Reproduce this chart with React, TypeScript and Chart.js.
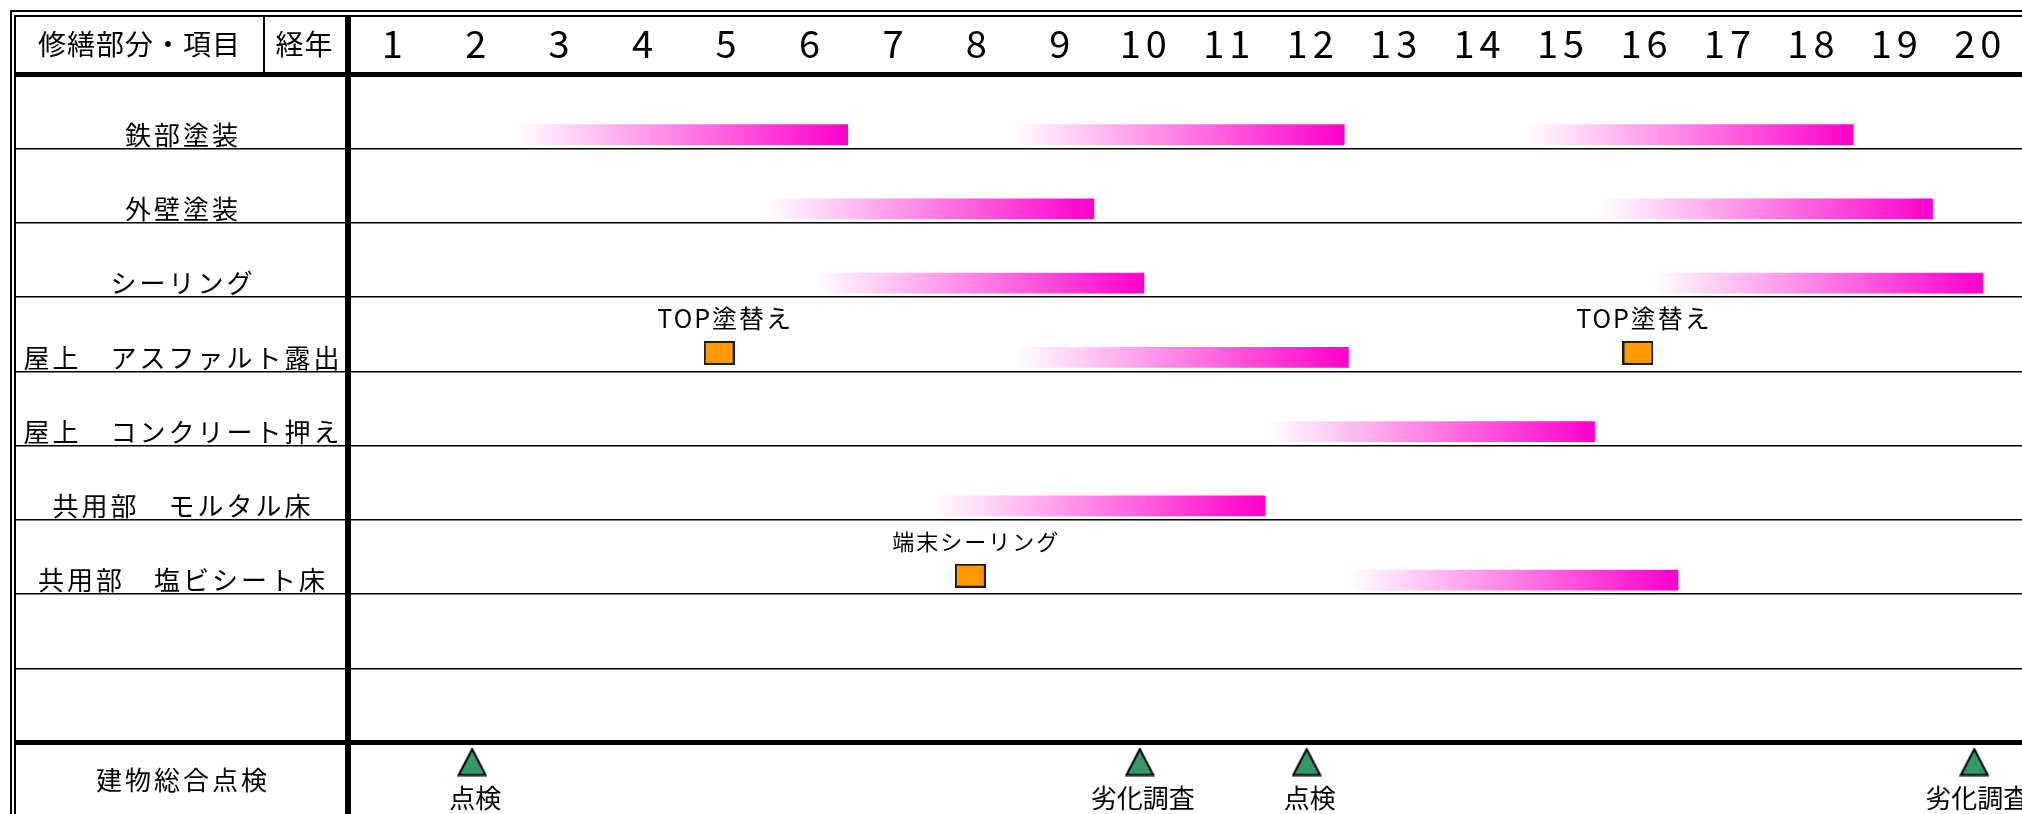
import React, { useEffect, useRef } from 'react';
import { Chart, registerables } from 'chart.js';

Chart.register(...registerables);

const W = 2022;
const H = 814;
const FONT = '"Noto Sans CJK JP", "Noto Sans CJK SC", sans-serif';

// ---------------- data ----------------
const yearLabels = ['1', '2', '3', '4', '5', '6', '7', '8', '9', '10', '11', '12', '13', '14', '15', '16', '17', '18', '19', '20'];

const rowLabels = [
  '鉄部塗装',
  '外壁塗装',
  'シーリング',
  '屋上　アスファルト露出',
  '屋上　コンクリート押え',
  '共用部　モルタル床',
  '共用部　塩ビシート床',
  '',
  '',
  '建物総合点検',
];

// repair periods (row index, start / end on the year axis)
const paintRows = [0, 0, 0, 1, 1, 2, 2, 3, 4, 5, 6];
const paintStart = [2.5, 8.45, 14.6, 5.5, 15.5, 6.1, 16.15, 8.5, 11.5, 7.5, 12.5];
const paintEnd = [6.5, 12.45, 18.55, 9.45, 19.5, 10.05, 20.1, 12.5, 15.45, 11.5, 16.45];

// point works
const workYears = [4.96, 15.97, 7.97];
const workRows = [3, 3, 6];
const workLabels = ['TOP塗替え', 'TOP塗替え', '端末シーリング'];

// inspections
const surveyYears = [2, 10, 12, 20];
const surveyLabels = ['点検', '劣化調査', '点検', '劣化調査'];
const surveyRow = 9;

// ---------------- layout / style ----------------
const LEFT = 347;
const HEAD = 74.5;
const ROW_H = 74.25;
const YEAR_W = 83.45;
const X_MAX = 0.5 + (W - LEFT) / YEAR_W;
const Y_MAX = (H - HEAD) / ROW_H;

const BAR_POS = 0.81;
const WORK_POS = 0.75;
const SURVEY_POS = 0.26;
const LABEL_POS = 0.815;

const ROW_FONT = 26;
const ROW_SPACING = 3;
const NUM_FONT = 38;
const NUM_SPACING = 5;
const workLabelFont = [25, 25, 22];
const workLabelSpacing = [2, 2, 2];
const SURVEY_FONT = 26;

const PINK = 'rgba(255,0,204,1)';
const PINK0 = 'rgba(255,0,204,0)';

function setSpacing(ctx: any, px: number) {
  ctx.letterSpacing = px + 'px';
}

function drawText(ctx: any, text: string, x: number, y: number, size: number, spacing: number) {
  ctx.font = `${size}px ${FONT}`;
  setSpacing(ctx, spacing);
  ctx.textAlign = 'center';
  ctx.textBaseline = 'middle';
  ctx.fillStyle = '#000';
  ctx.fillText(text, x + spacing / 2, y);
}

function makeSquare() {
  const c = document.createElement('canvas');
  c.width = 31;
  c.height = 24;
  const g = c.getContext('2d')!;
  g.fillStyle = '#FF9900';
  g.fillRect(1, 1, 29, 22);
  g.strokeStyle = '#1a1a1a';
  g.lineWidth = 2;
  g.strokeRect(1, 1, 29, 22);
  return c;
}

function makeTriangle() {
  const c = document.createElement('canvas');
  c.width = 30;
  c.height = 29;
  const g = c.getContext('2d')!;
  g.beginPath();
  g.moveTo(15, 1.5);
  g.lineTo(28.5, 27.5);
  g.lineTo(1.5, 27.5);
  g.closePath();
  g.fillStyle = '#339966';
  g.fill();
  g.lineWidth = 2;
  g.strokeStyle = '#000';
  g.stroke();
  return c;
}

const tablePlugin = {
  id: 'tableFrame',
  beforeLayout(chart: any) {
    setSpacing(chart.ctx, ROW_SPACING);
  },
  beforeDraw(chart: any) {
    setSpacing(chart.ctx, NUM_SPACING);
  },
  afterDatasetsDraw(chart: any) {
    setSpacing(chart.ctx, ROW_SPACING);
  },
  afterDraw(chart: any) {
    const ctx = chart.ctx;
    ctx.save();
    ctx.fillStyle = '#000';
    // double outer frame
    ctx.fillRect(10, 10, W - 10, 2);
    ctx.fillRect(14, 15, W - 14, 2);
    ctx.fillRect(10, 10, 2, H - 10);
    ctx.fillRect(14, 15, 2, H - 15);
    // header separator and thick vertical rule
    ctx.fillRect(263, 15, 2, HEAD - 15);
    ctx.fillRect(345, 15, 6, H - 15);

    // header texts
    drawText(ctx, '修繕部分・項目', 139, 44, 28, 1);
    drawText(ctx, '経年', 304, 44, 28, 1);

    // labels of point works (above squares)
    const wm = chart.getDatasetMeta(1);
    wm.data.forEach((pt: any, i: number) => {
      drawText(ctx, workLabels[i], pt.x + 5, pt.y - 34, workLabelFont[i], workLabelSpacing[i]);
    });
    // labels of inspections (below triangles)
    const sm = chart.getDatasetMeta(2);
    sm.data.forEach((pt: any, i: number) => {
      drawText(ctx, surveyLabels[i], pt.x + 3, pt.y + 36.5, SURVEY_FONT, 0);
    });
    ctx.restore();
    setSpacing(ctx, 0);
  },
};

export default function App() {
  const ref = useRef<HTMLCanvasElement>(null);

  useEffect(() => {
    const canvas = ref.current;
    if (!canvas) return;
    Chart.defaults.font.family = FONT;
    Chart.defaults.color = '#000';

    const squareImg = makeSquare();
    const triImg = makeTriangle();

    const chart = new Chart(canvas, {
      type: 'scatter',
      data: {
        datasets: [
          {
            type: 'bar',
            indexAxis: 'y',
            xAxisID: 'x',
            yAxisID: 'y',
            data: paintRows.map((r, i) => ({ x: [paintStart[i], paintEnd[i]], y: r + BAR_POS })),
            barThickness: 20,
            borderWidth: 0,
            grouped: false,
            backgroundColor: (c: any) => {
              const ch = c.chart;
              const xs = ch && ch.scales && ch.scales.x;
              if (!xs || !c.raw || !Array.isArray(c.raw.x)) return PINK;
              const x0 = xs.getPixelForValue(c.raw.x[0]);
              const x1 = xs.getPixelForValue(c.raw.x[1]);
              if (!isFinite(x0) || !isFinite(x1) || x0 === x1) return PINK;
              const g = ch.ctx.createLinearGradient(x0, 0, x1, 0);
              g.addColorStop(0, PINK0);
              g.addColorStop(1, PINK);
              return g;
            },
          } as any,
          {
            type: 'scatter',
            xAxisID: 'x',
            yAxisID: 'y',
            data: workYears.map((yr, i) => ({ x: yr, y: workRows[i] + WORK_POS })),
            pointStyle: squareImg,
            pointRadius: 14,
          } as any,
          {
            type: 'scatter',
            xAxisID: 'x',
            yAxisID: 'y',
            data: surveyYears.map((yr) => ({ x: yr, y: surveyRow + SURVEY_POS })),
            pointStyle: triImg,
            pointRadius: 14,
          } as any,
        ],
      },
      options: {
        responsive: false,
        animation: false,
        devicePixelRatio: 1,
        events: [],
        layout: { padding: 0, autoPadding: false },
        plugins: {
          legend: { display: false },
          tooltip: { enabled: false },
          title: { display: false },
        },
        scales: {
          x: {
            type: 'linear',
            position: 'top',
            min: 0.5,
            max: X_MAX,
            bounds: 'data',
            offset: false,
            grid: { display: false, drawTicks: false, offset: false },
            border: { display: false },
            afterBuildTicks: (s: any) => {
              s.ticks = yearLabels.map((l) => ({ value: Number(l) }));
            },
            afterFit: (s: any) => {
              s.height = HEAD;
              s.paddingLeft = 0;
              s.paddingRight = 0;
            },
            ticks: {
              callback: (_v: any, i: number) => yearLabels[i],
              font: { size: NUM_FONT, family: FONT, lineHeight: 1.2 },
              color: '#000',
              padding: 8,
              labelOffset: 6,
              maxRotation: 0,
              minRotation: 0,
              autoSkip: false,
            },
          },
          y: {
            type: 'linear',
            position: 'left',
            reverse: true,
            min: 0,
            max: Y_MAX,
            bounds: 'data',
            offset: false,
            weight: 0,
            afterBuildTicks: (s: any) => {
              s.ticks = rowLabels.map((_l, i) => ({ value: i }));
            },
            afterFit: (s: any) => {
              s.width = 0;
              s.paddingTop = 0;
              s.paddingBottom = 0;
            },
            ticks: { display: false },
            grid: {
              display: true,
              offset: false,
              color: '#000',
              lineWidth: (c: any) => (c.tick && (c.tick.value === 0 || c.tick.value === 9) ? 5 : 1.6),
              drawOnChartArea: true,
              drawTicks: true,
              tickLength: LEFT - 15,
            },
            border: { display: false },
          },
          yLabels: {
            type: 'linear',
            position: 'left',
            reverse: true,
            min: 0,
            max: Y_MAX,
            bounds: 'data',
            offset: false,
            weight: 1,
            afterBuildTicks: (s: any) => {
              s.ticks = rowLabels.map((_l, i) => ({ value: i === rowLabels.length - 1 ? i + 0.5 : i + LABEL_POS }));
            },
            afterFit: (s: any) => {
              s.width = LEFT;
              s.paddingTop = 0;
              s.paddingBottom = 0;
            },
            grid: { display: false, drawTicks: false },
            border: { display: false },
            ticks: {
              callback: (_v: any, i: number) => rowLabels[i],
              crossAlign: 'center',
              padding: 4.5,
              font: { size: ROW_FONT, family: FONT },
              color: '#000',
              autoSkip: false,
              z: 1,
            },
          },
        },
      } as any,
      plugins: [tablePlugin as any],
    });

    return () => chart.destroy();
  }, []);

  return (
    <div style={{ position: 'fixed', left: 0, top: 0, width: W, height: H, background: '#fff' }}>
      <canvas ref={ref} width={W} height={H} style={{ display: 'block', width: W, height: H }} />
    </div>
  );
}
